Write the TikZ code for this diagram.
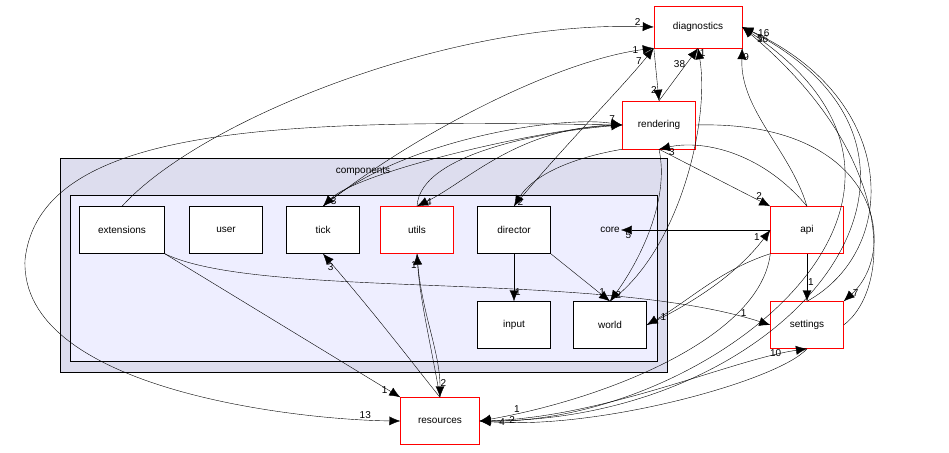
\documentclass[tikz,border=0pt]{standalone}
\usepackage{fontspec}
\setmainfont{Liberation Sans}
\usetikzlibrary{arrows.meta}
\usetikzlibrary{positioning}

\tikzset{
  dir/.style={draw,fill=white,minimum width=73pt,minimum height=47pt,inner sep=0pt,font=\fontsize{10}{12}\selectfont},
  bad/.style={dir,draw=red},
  dep/.style={-{Latex[length=11pt,width=9pt]},black},
  lbl/.style={font=\fontsize{10}{12}\selectfont,inner sep=1pt}
}

\begin{document}
\begin{tikzpicture}[x=1pt,y=-1pt]
  \useasboundingbox (0,0) rectangle (949,452);

  % clusters
  \draw[fill={rgb,255:red,221;green,221;blue,238}] (60,158) rectangle (667,372);
  \node[lbl] (complbl) at (363,171) {components};
  \draw[fill={rgb,255:red,238;green,238;blue,255}] (70,195) rectangle (657,361);
  \node[lbl] (core) at (610,230) {core};

  \begin{scope}
    \node[dir,minimum width=85pt] (extensions) at (122,230) {extensions};
    \node[dir] (user) at (226,230) {user};
    \node[dir] (tick) at (323,230) {tick};
    \node[bad] (utils) at (417,230) {utils};
    \node[dir] (director) at (514,230) {director};
    \node[dir] (input) at (514,325) {input};
    \node[dir] (world) at (610,325) {world};
    \node[bad,minimum width=88pt,minimum height=42pt] (diagnostics) at (698,27) {diagnostics};
    \node[bad,minimum height=48pt] (rendering) at (659,125) {rendering};
    \node[bad] (api) at (807,230) {api};
    \node[bad] (settings) at (807,325) {settings};
    \node[bad,minimum width=79pt] (resources) at (440,421) {resources};
  \end{scope}

  \begin{scope}[every node/.style={lbl}]
    % to diagnostics
    \draw[dep] (extensions.north) .. controls (200,120) and (450,20) .. node[pos=0.98,above left] {2} (diagnostics.west);
    \draw[dep] (tick.north) .. controls (420,130) and (560,60) .. node[pos=0.95,left] {1} (diagnostics.south west);
    \draw[dep] (director.north) .. controls (560,150) and (620,90) .. node[pos=0.9,left] {7} (diagnostics.south west);
    \draw[dep] (rendering.north) -- node[pos=0.7,left] {38} (diagnostics.south);
    \draw[dep] (world.north) .. controls (680,250) and (710,120) .. node[pos=0.98,right] {1} (diagnostics.south);
    \draw[dep] (api.north) .. controls (790,150) and (740,110) .. node[pos=0.95,right] {9} (diagnostics.south east);
    \draw[dep] (settings.north) .. controls (900,250) and (900,100) .. node[pos=0.97,below right] {5} (diagnostics.east);
    \draw[dep] (resources.east) .. controls (700,430) and (1000,200) .. node[pos=0.98,above right] {16} (diagnostics.east);
    % to rendering
    \draw[dep] (diagnostics.south west) -- node[pos=0.8,left] {2} (rendering.north);
    \draw[dep] (tick.north) .. controls (400,140) and (560,115) .. node[pos=0.95,above] {7} (rendering.west);
    \draw[dep] (utils.north) .. controls (420,150) and (560,130) .. (rendering.west);
    \draw[dep] (api.north) .. controls (760,150) and (700,140) .. node[pos=0.9,below] {3} (rendering.south);
    % from rendering
    \draw[dep] (rendering.west) .. controls (560,125) and (360,170) .. node[pos=0.95,right] {3} (tick.north);
    \draw[dep] (rendering.west) .. controls (520,125) and (470,180) .. node[pos=0.95,right] {4} (utils.north);
    \draw[dep] (rendering.south west) .. controls (560,160) and (530,180) .. node[pos=0.95,right] {2} (director.north);
    \draw[dep] (rendering.south) .. controls (670,200) and (640,260) .. node[pos=0.95,right] {2} (world.north);
    \draw[dep] (rendering.south) -- node[pos=0.9,above] {2} (api.north west);
    \draw[dep] (rendering.east) .. controls (880,120) and (900,250) .. node[pos=0.95,right] {7} (settings.north east);
    \draw[dep] (rendering.west) .. controls (300,120) and (40,120) .. (25,260) .. controls (20,390) and (300,420) .. node[pos=0.9,above] {13} (resources.west);
    % director
    \draw[dep] (director.south) -- node[pos=0.8,right] {1} (input.north);
    \draw[dep] (director.south east) -- node[pos=0.8,right] {1} (world.north);
    % api
    \draw[dep] (api.west) -- node[pos=0.95,below] {5} (core.east);
    \draw[dep] (world.east) .. controls (700,300) and (740,270) .. node[pos=0.9,above left] {1} (api.west);
    \draw[dep] (api.south west) .. controls (720,270) and (690,300) .. node[pos=0.9,right] {1} (world.east);
    \draw[dep] (api.south) -- node[pos=0.6,right] {1} (settings.north);
    \draw[dep] (api.south west) .. controls (760,340) and (600,400) .. node[pos=0.9,above] {1} (resources.east);
    % extensions
    \draw[dep] (extensions.south east) -- node[pos=0.95,left] {1} (resources.north west);
    \draw[dep] (extensions.south east) .. controls (260,300) and (600,270) .. node[pos=0.95,above] {1} (settings.west);
    % resources
    \draw[dep] (resources.north) .. controls (410,360) and (380,320) .. node[pos=0.93,left] {3} (tick.south);
    \draw[dep] (resources.north) .. controls (430,340) and (420,300) .. node[pos=0.92,left] {1} (utils.south);
    \draw[dep] (utils.south) .. controls (420,310) and (440,350) .. node[pos=0.9,right] {2} (resources.north);
    \draw[dep] (resources.east) .. controls (600,420) and (730,360) .. node[pos=0.9,left] {10} (settings.south);
    \draw[dep] (settings.south) .. controls (780,380) and (600,430) .. node[pos=0.95,right] {4} (resources.east);
    \draw[dep] (diagnostics.east) .. controls (1000,150) and (800,420) .. node[pos=0.97,right] {2} (resources.east);
    \draw[dep] (settings.east) .. controls (890,290) and (900,160) .. node[pos=0.97,right] {16} (diagnostics.east);
  \end{scope}
\end{tikzpicture}
\end{document}
